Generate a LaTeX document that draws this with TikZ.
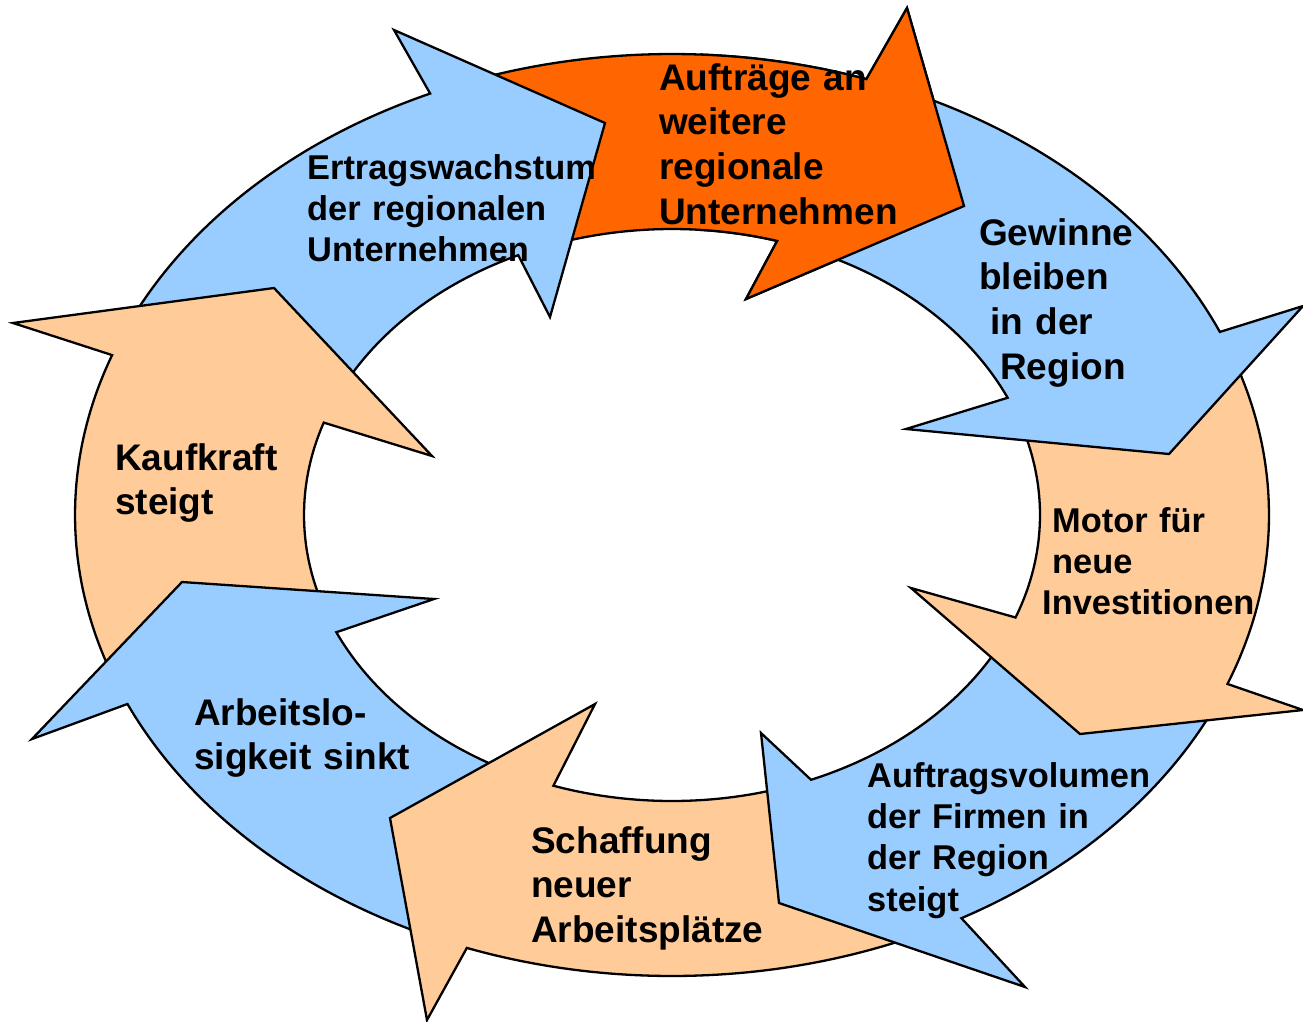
\documentclass[tikz,border=0pt]{standalone}
\usepackage{fontspec}
\setmainfont{Liberation Sans}
\definecolor{skyb}{HTML}{99CCFF}
\definecolor{peach}{HTML}{FFCC99}
\definecolor{redor}{HTML}{FF6600}
% #1 style, #2 tail outer angle, #3 tail inner angle, #4 outer neck angle,
% #5 inner neck angle, #6 outer barb, #7 tip, #8 inner barb
\newcommand\ringarrow[8]{%
  \path[#1] plot[domain=#2:#4, samples=50, variable=\t] ({672+597*cos(\t)},{515+461*sin(\t)})
    -- #6 -- #7 -- #8
    -- plot[domain=#5:#3, samples=50, variable=\t] ({672+368*cos(\t)},{515+286*sin(\t)})
    -- cycle;}
\begin{document}
\begin{tikzpicture}[x=1pt,y=-1pt,
  arrowbase/.style={draw=black, line width=2.3pt, line join=miter, miter limit=6},
  bluearrow/.style={arrowbase, fill=skyb},
  peacharrow/.style={arrowbase, fill=peach},
  orangearrow/.style={arrowbase, fill=redor},
  labelbig/.style={font=\fontsize{37}{44.7}\selectfont\bfseries, anchor=base west,
    inner sep=0pt, text width=400pt, align=left},
  labelsmall/.style={font=\fontsize{34.4}{41.4}\selectfont\bfseries, anchor=base west,
    inner sep=0pt, text width=400pt, align=left}]
\useasboundingbox (0,0) rectangle (1303,1021);
% arrows (each head over the next arrow's tail)
\ringarrow{orangearrow}{250}{250}{289}{286.6}{(907,8)}{(964,206)}{(746,299)}
\ringarrow{bluearrow}{203}{203}{246.1}{245.3}{(394,30)}{(605,123)}{(550,317)}
\ringarrow{peacharrow}{158}{158}{200.3}{198.85}{(13,323)}{(274,288)}{(432,456)}
\ringarrow{bluearrow}{113}{113}{155.8}{155.8}{(32,739)}{(182,582)}{(434,599)}
\ringarrow{peacharrow}{64}{71}{110.1}{108.8}{(427,1020)}{(390,818)}{(595,704)}
\ringarrow{bluearrow}{25}{25}{61}{67.8}{(1025,987)}{(779,903)}{(761,733)}
\ringarrow{peacharrow}{340}{340}{381.5}{381}{(1303,710)}{(1080,734)}{(911,588)}
\ringarrow{bluearrow}{292}{292}{336.6}{335.8}{(1303,306)}{(1169,454)}{(906,429)}
\begin{scope}
  \clip (700,0) rectangle (1303,330);
  \ringarrow{orangearrow}{250}{250}{289}{286.6}{(907,8)}{(964,206)}{(746,299)}
\end{scope}
% labels
\node[labelbig] (auftraege) at (659,90) {Aufträge an\\weitere\\regionale\\Unternehmen};
\node[labelsmall] (ertrag) at (307,179) {Ertragswachstum\\der regionalen\\Unternehmen};
\node[labelbig] (gewinne) at (979,245) {Gewinne\\bleiben\\\hspace*{11pt}in der\\\hspace*{21pt}Region};
\node[labelsmall] (motor) at (1042,532) {\hspace*{10pt}Motor für\\\hspace*{10pt}neue\\Investitionen};
\node[labelsmall] (volumen) at (867,787) {Auftragsvolumen\\der Firmen in\\der Region\\steigt};
\node[labelbig] (schaffung) at (531,853) {Schaffung\\neuer\\Arbeitsplätze};
\node[labelbig] (arbeitslos) at (194,725) {Arbeitslo-\\sigkeit sinkt};
\node[labelbig] (kaufkraft) at (115,470) {Kaufkraft\\steigt};
\end{tikzpicture}
\end{document}
